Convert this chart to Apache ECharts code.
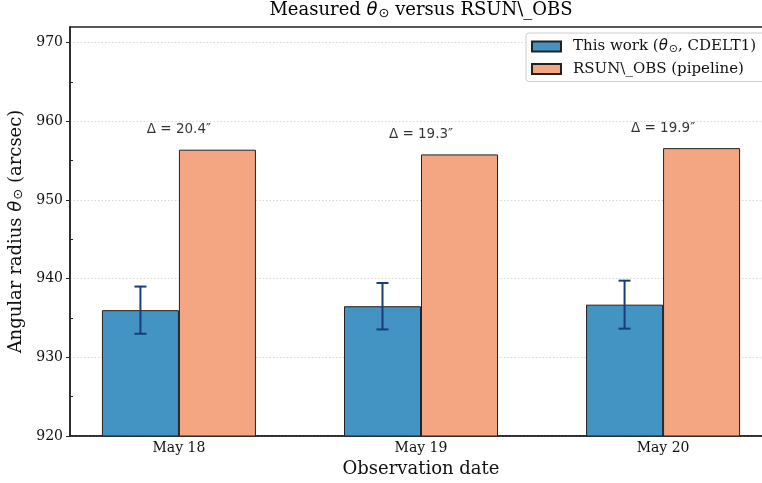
<!DOCTYPE html>
<html><head><meta charset="utf-8">
<script src="https://cdn.jsdelivr.net/npm/echarts@6/dist/echarts.min.js"></script>
<style>html,body{margin:0;padding:0;background:#fff}#c{width:762px;height:483px}</style>
</head><body><div id="c"></div>
<script>
const categories = ['May 18', 'May 19', 'May 20'];
const thisWork = [936.0, 936.5, 936.7];
const thisWorkErr = [3.0, 2.95, 3.05];
const rsunObs = [956.4, 955.8, 956.6];
const yTicks = [920, 930, 940, 950, 960, 970];
const yMinorTicks = [925, 935, 945, 955, 965];

const serif = 'DejaVu Serif';
const BAR_W = 77;
const chart = echarts.init(document.getElementById('c'));
const idx = categories.map((_, i) => i);
const mathRich = (size) => ({
  n: {fontFamily: serif, fontSize: size, color: '#111'},
  i: {fontFamily: 'DejaVu Sans', fontStyle: 'italic', fontSize: size, color: '#111'},
  s: {fontFamily: 'DejaVu Sans', fontSize: Math.round(size * 0.7), color: '#111', padding: [Math.round(size*0.35), 0, 0, 1]}
});

chart.setOption({
  animation: false,
  backgroundColor: '#fff',
  graphic: [{
    type: 'text', x: 421, y: 1,
    style: {
      text: '{n|Measured }{i|θ}{s|⊙}{n| versus RSUN\\_OBS}',
      rich: mathRich(18), textAlign: 'center', textVerticalAlign: 'top'
    }
  }],
  grid: {left: 70, top: 27, width: 702, bottom: 47, outerBoundsMode: 'none', containLabel: false,
         show: true, borderColor: '#222', borderWidth: 1.5, backgroundColor: 'transparent'},
  legend: {
    orient: 'vertical', left: 526, top: 33,
    padding: [6, 14, 5, 5], itemGap: 7, itemWidth: 29, itemHeight: 10,
    backgroundColor: '#fff', borderColor: '#ccc', borderWidth: 1, borderRadius: 3,
    data: [{name: 'thisWork', icon: 'rect'}, {name: 'rsun', icon: 'rect'}],
    formatter: n => n === 'thisWork' ? '{n|This work (}{i|θ}{s|⊙}{n|, CDELT1)}' : '{n|RSUN\\_OBS (pipeline)}',
    textStyle: {rich: mathRich(15), padding: [0, 0, 0, 7]}
  },
  xAxis: {
    type: 'value', min: -0.45, max: 2.45,
    name: 'Observation date', nameLocation: 'middle', nameGap: 23,
    nameTextStyle: {fontFamily: serif, fontSize: 18, color: '#111'},
    axisLine: {show: true, onZero: false, lineStyle: {color: '#222', width: 1.5}},
    axisTick: {show: false},
    splitLine: {show: false},
    axisLabel: {
      customValues: idx, fontFamily: serif, fontSize: 14, color: '#111', margin: 5,
      formatter: v => categories[Math.round(v)]
    }
  },
  yAxis: [{
    type: 'value', min: 920, max: 972, interval: 10,
    name: 'Angular radius {i|θ}{s|⊙} (arcsec)', nameLocation: 'middle', nameGap: 42,
    nameTextStyle: {fontFamily: serif, fontSize: 18, color: '#111', rich: mathRich(18)},
    axisLine: {show: true, onZero: false, lineStyle: {color: '#222', width: 1.5}},
    axisTick: {show: true, length: 4, lineStyle: {color: '#222'}, customValues: yTicks},
    axisLabel: {customValues: yTicks, fontFamily: serif, fontSize: 14, color: '#111', margin: 7},
    splitLine: {show: true, lineStyle: {color: '#ccc', type: [1.5, 2], width: 0.8}}
  }, {
    type: 'value', min: 920, max: 972, position: 'left', offset: 0,
    axisLine: {show: false, onZero: false},
    axisLabel: {show: false},
    splitLine: {show: false},
    axisTick: {show: true, inside: true, length: 3, lineStyle: {color: '#222'}, customValues: yMinorTicks}
  }],
  series: [{
    name: 'thisWork', type: 'bar', barWidth: BAR_W, barGap: '0%',
    data: idx.map(i => [i, thisWork[i]]),
    itemStyle: {color: '#4393c3', borderColor: '#222', borderWidth: 1},
    z: 2
  }, {
    name: 'rsun', type: 'bar', barWidth: BAR_W, barGap: '0%',
    data: idx.map(i => [i, rsunObs[i]]),
    itemStyle: {color: '#f4a582', borderColor: '#222', borderWidth: 1},
    z: 2
  }, {
    type: 'custom', z: 5,
    data: idx.map(i => [i, thisWork[i] - thisWorkErr[i], thisWork[i] + thisWorkErr[i]]),
    renderItem: (params, api) => {
      const lo = api.coord([api.value(0), api.value(1)]);
      const hi = api.coord([api.value(0), api.value(2)]);
      const x = lo[0] - BAR_W / 2;
      const cw = 6;
      const st = {stroke: '#173d7a', lineWidth: 2};
      return {type: 'group', children: [
        {type: 'line', shape: {x1: x, y1: lo[1], x2: x, y2: hi[1]}, style: st},
        {type: 'line', shape: {x1: x - cw, y1: lo[1], x2: x + cw, y2: lo[1]}, style: st},
        {type: 'line', shape: {x1: x - cw, y1: hi[1], x2: x + cw, y2: hi[1]}, style: st}
      ]};
    }
  }, {
    type: 'scatter', symbolSize: 0, z: 6,
    data: idx.map(i => [i, rsunObs[i]]),
    label: {
      show: true, position: 'top', distance: 13,
      fontFamily: 'DejaVu Sans', fontSize: 13.5, color: '#000',
      formatter: p => 'Δ = ' + (rsunObs[p.dataIndex] - thisWork[p.dataIndex]).toFixed(1) + '″'
    }
  }]
});
</script></body></html>
